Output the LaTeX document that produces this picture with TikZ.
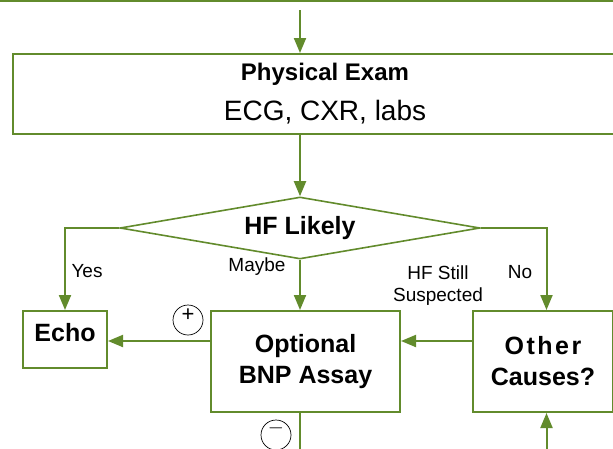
\documentclass[tikz,border=0pt]{standalone}
\usepackage{fontspec}
\setmainfont{Liberation Sans}
\usetikzlibrary{arrows.meta,shapes.geometric}
\definecolor{flowgreen}{RGB}{98,139,44}

\begin{document}
\begin{tikzpicture}[x=1pt,y=-1pt,
        box/.style={draw=flowgreen,line width=2pt,inner sep=0pt,fill=white},
        boldtext/.style={font=\fontsize{25}{31}\selectfont\bfseries},
        labeltext/.style={font=\fontsize{19}{22}\selectfont,inner sep=0pt,align=center},
        flow/.style={draw=flowgreen,line width=2pt},
        arr/.style={flow,-{Triangle[width=12pt,length=15pt]}},
        sign/.style={draw,circle,line width=0.7pt,minimum size=30pt,inner sep=0pt},
        signtext/.style={font=\fontsize{22}{22}\selectfont,inner sep=0pt}]
        \useasboundingbox (0,0) rectangle (613,448);
        \clip (0,0) rectangle (613,448);
        \coordinate (start) at (300,10);
        \coordinate (mid) at (0,341);
        \coordinate (exit) at (300,470);
        \coordinate (back) at (546.5,470);
        \draw[flow] (0,1) -- (613,1);
        % boxes
        \node[box,minimum width=624pt,minimum height=80pt,align=center,
            font=\fontsize{28}{40}\selectfont] (exam) at (325,94)
            {{\fontsize{24}{40}\selectfont\bfseries Physical Exam}\\ECG, CXR, labs};
        \node[draw=flowgreen,line width=1.6pt,diamond,aspect=5.8,minimum width=360pt,
            minimum height=62pt,inner sep=0pt,boldtext] (hf) at (300,228) {HF Likely};
        \node[box,boldtext,minimum width=84pt,minimum height=57pt,text depth=14pt] (echo) at (65,339.5) {Echo};
        \node[box,boldtext,align=center,minimum width=189pt,minimum height=101pt] (opt) at (305.5,361.5)
            {Optional\\BNP Assay};
        \node[box,boldtext,align=center,minimum width=140pt,minimum height=101pt] (other) at (543,361.5)
            {{\addfontfeature{LetterSpace=10}Other}\\Causes?};
        % connectors
        \draw[arr] (start) -- (start |- exam.north);
        \draw[arr] (hf.north |- exam.south) -- (hf.north);
        \draw[arr] (hf.west) -| (echo.north);
        \draw[arr] (hf.south) -- (hf.south |- opt.north);
        \draw[arr] (hf.east) -| ([xshift=3.5pt]other.north);
        \draw[arr] (opt.west |- mid) -- (echo.east |- mid);
        \draw[arr] (other.west |- mid) -- (opt.east |- mid);
        \draw[flow] (exit |- opt.south) -- (exit);
        \draw[arr] (back) -- (back |- other.south);
        % labels
        \node[labeltext,anchor=base] (yes) at (87,277) {Yes};
        \node[labeltext,anchor=base] (maybe) at (257,271) {Maybe};
        \node[labeltext] (still) at (438,286) {HF Still\\Suspected};
        \node[labeltext,anchor=base] (no) at (520,278) {No};
        \node[sign,label={[signtext,yshift=5pt]center:+}] (plus) at (188,320) {};
        \node[sign,label={[signtext,yshift=7pt]center:$-$}] (minus) at (276,435) {};
\end{tikzpicture}
\end{document}
